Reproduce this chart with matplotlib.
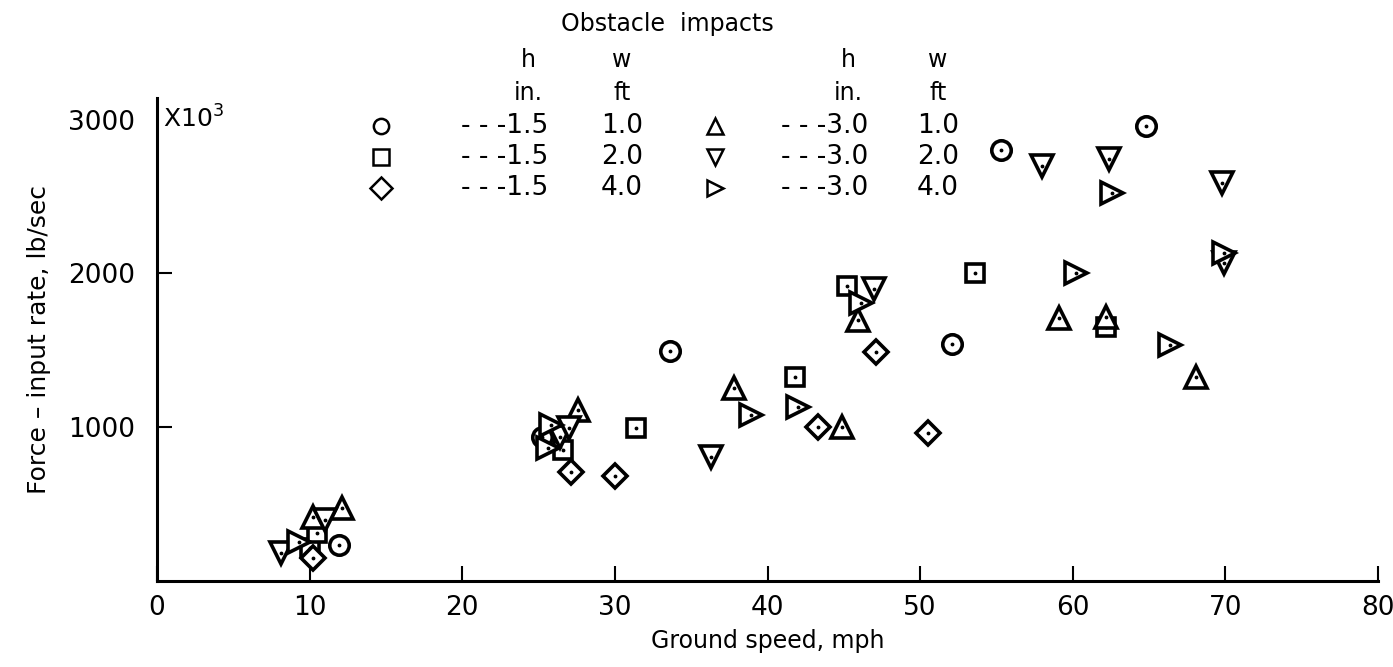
import matplotlib
matplotlib.use('Agg')
from matplotlib import pyplot as plt

# Obstacle impacts
# h = 1.5 in.
circle_x = [11.9, 25.2, 33.6, 52.1, 55.3, 64.8]        # w = 1.0 ft
circle_y = [235, 935, 1495, 1540, 2800, 2955]
square_x = [10.0, 10.5, 26.6, 31.4, 41.8, 45.2, 53.6, 62.2]   # w = 2.0 ft
square_y = [215, 310, 850, 995, 1325, 1920, 2000, 1650]
diamond_x = [10.2, 27.1, 30.0, 43.3, 47.1, 50.5]       # w = 4.0 ft
diamond_y = [150, 710, 685, 1000, 1490, 960]
# h = 3.0 in.
up_x = [10.2, 12.1, 27.6, 37.8, 44.9, 45.9, 59.1, 62.2, 68.1]   # w = 1.0 ft
up_y = [415, 475, 1110, 1255, 1000, 1695, 1710, 1715, 1325]
down_x = [8.1, 11.0, 26.4, 27.0, 36.3, 47.0, 58.0, 62.4, 69.8, 69.9]   # w = 2.0 ft
down_y = [180, 395, 935, 995, 805, 1900, 2700, 2745, 2590, 2065]
right_x = [9.3, 25.6, 25.8, 38.9, 42.0, 46.1, 60.2, 62.6, 66.4, 69.9]  # w = 4.0 ft
right_y = [255, 865, 1015, 1080, 1130, 1810, 2005, 2520, 1535, 2135]

x_ticks = [0, 10, 20, 30, 40, 50, 60, 70, 80]
y_ticks = [1000, 2000, 3000]

W, H = 1393, 667


def fx(px):
    return px / W


def fy(py):
    return 1 - py / H


fig = plt.figure(figsize=(W / 100, H / 100), dpi=100)
ax = fig.add_axes([fx(157), fy(581), fx(1378) - fx(157), fy(98) - fy(581)])

series = [
    (circle_x, circle_y, 'o', 14),
    (square_x, square_y, 's', 13),
    (diamond_x, diamond_y, 'D', 12),
    (up_x, up_y, '^', 16),
    (down_x, down_y, 'v', 16),
    (right_x, right_y, '>', 16),
]
for xs, ys, m, ms in series:
    ax.plot(xs, ys, m, ms=ms, mfc='white', mec='black', mew=2.6, ls='none')
    ax.plot(xs, ys, '.', ms=3.5, color='black', ls='none')

ax.set_xlim(0, 80)
ax.set_ylim(0, 3140)
ax.spines['top'].set_visible(False)
ax.spines['right'].set_visible(False)
ax.spines['left'].set_linewidth(2.2)
ax.spines['bottom'].set_linewidth(2.2)
ax.set_xticks(x_ticks)
ax.set_xticklabels([str(t) for t in x_ticks])
ax.set_yticks(y_ticks)
ax.set_yticklabels([str(t) for t in y_ticks])
ax.tick_params(direction='in', length=11, width=1.5, labelsize=19, pad=10)
ax.tick_params(axis='y', pad=16)
ax.yaxis.get_major_ticks()[-1].tick1line.set_visible(False)
ax.set_xlabel('Ground speed, mph', fontsize=17, labelpad=6)
ax.set_ylabel('Force \u2013 input rate, lb/sec', fontsize=18, labelpad=12)
fig.text(fx(163), fy(119), 'X10$^3$', fontsize=18, va='center', ha='left')

# legend block drawn by hand like the original
fig.text(fx(667), fy(24), 'Obstacle  impacts', fontsize=17, ha='center', va='center')
cols = [(381, 548, 622, '1.5'), (715, 868, 938, '3.0')]
rows = [(126, 'o', '1.0'), (157, 's', '2.0'), (188, 'D', '4.0')]
rows_r = [(126, '^', '1.0'), (157, 'v', '2.0'), (188, '>', '4.0')]
for (mx, hx, wx, hval), rr in zip(cols, [rows, rows_r]):
    fig.text(fx(hx - 20), fy(60), 'h', fontsize=17, ha='center', va='center')
    fig.text(fx(wx), fy(60), 'w', fontsize=17, ha='center', va='center')
    fig.text(fx(hx - 20), fy(93), 'in.', fontsize=17, ha='center', va='center')
    fig.text(fx(wx), fy(93), 'ft', fontsize=17, ha='center', va='center')
    for py, m, wval in rr:
        fig.lines.append(plt.Line2D([fx(mx)], [fy(py)], marker=m, ms=11, mfc='white',
                                    mec='black', mew=1.8, transform=fig.transFigure))
        fig.text(fx(hx), fy(py), '- - -' + hval, fontsize=19, ha='right', va='center')
        fig.text(fx(wx), fy(py), wval, fontsize=19, ha='center', va='center')

fig.savefig('out.png', dpi=100)
